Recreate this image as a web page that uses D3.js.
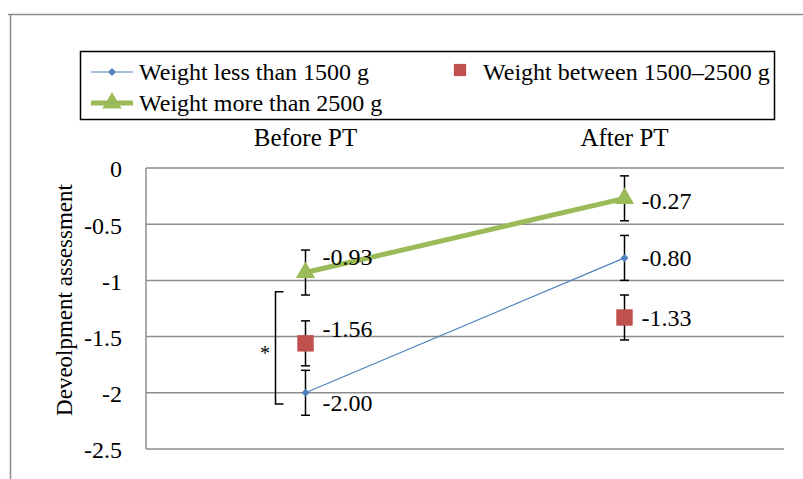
<!DOCTYPE html>
<html>
<head>
<meta charset="utf-8">
<script src="https://cdn.jsdelivr.net/npm/d3@7"></script>
<style>
  body { margin: 0; background: #fff; }
</style>
</head>
<body>
<div id="chart"></div>
<script>
// categories + series (mean, sd)
var categories = ["Before PT", "After PT"];
var seriesNames = ["Weight less than 1500 g", "Weight between 1500\u20132500 g", "Weight more than 2500 g"];
var lowWeight  = [-2.00, -0.80];
var midWeight  = [-1.56, -1.33];
var highWeight = [-0.93, -0.27];
var errLow  = [0.2, 0.2];
var errMid  = [0.2, 0.2];
var errHigh = [0.2, 0.2];
var yTicks = [0, -0.5, -1, -1.5, -2, -2.5];
// significance bracket between groups at Before PT
var sigRange = [-1.10, -2.10];

// label nudges (px) per series, per category
var labelShift = [[10, 0], [-15, 0], [-16, 2]];

var FONT = "'Liberation Serif', 'Times New Roman', serif";
var W = 803, H = 479;

var svg = d3.select("#chart").append("svg")
  .attr("width", W).attr("height", H);

// outer frame (partially cropped)
svg.append("line").attr("x1", 8).attr("x2", W).attr("y1", 14.5).attr("y2", 14.5)
  .attr("stroke", "#8c8c8c").attr("stroke-width", 1.5);
svg.append("line").attr("x1", 10.5).attr("x2", 10.5).attr("y1", 14).attr("y2", H)
  .attr("stroke", "#8c8c8c").attr("stroke-width", 1.5);

var x = d3.scaleBand().domain(categories).range([146, 784]);
var y = d3.scaleLinear().domain([-2.5, 0]).range([449, 168]);

function txt(sel, size) {
  return sel.style("font-family", FONT).style("font-size", size + "px").attr("fill", "#000");
}

// gridlines
svg.append("g").selectAll("line").data(yTicks).enter().append("line")
  .attr("x1", 146).attr("x2", 784)
  .attr("y1", function(d){ return y(d); }).attr("y2", function(d){ return y(d); })
  .attr("stroke", "#8c8c8c").attr("stroke-width", 1.5);
svg.append("line").attr("x1", 146).attr("x2", 146).attr("y1", y(0)).attr("y2", y(-2.5))
  .attr("stroke", "#8c8c8c").attr("stroke-width", 1.5);

// y tick labels
txt(svg.append("g").selectAll("text").data(yTicks).enter().append("text")
  .attr("x", 122).attr("y", function(d){ return y(d) + 1; })
  .attr("dy", "0.35em")
  .attr("text-anchor", "end"), 24)
  .text(function(d){ return String(d); });

// category labels on top
txt(svg.append("g").selectAll("text").data(categories).enter().append("text")
  .attr("x", function(d){ return x(d) + x.bandwidth()/2; })
  .attr("y", 146)
  .attr("text-anchor", "middle"), 25)
  .text(function(d){ return d; });

// y axis title
txt(svg.append("text")
  .attr("transform", "translate(72,300) rotate(-90)")
  .attr("text-anchor", "middle"), 23)
  .text("Deveolpment assessment");

var cx = function(i){ return x(categories[i]) + x.bandwidth()/2; };

var series = [
  {name: seriesNames[0], values: lowWeight,  err: errLow,  color: "#4F81BD", width: 1.2, marker: "diamond", line: true},
  {name: seriesNames[1], values: midWeight,  err: errMid,  color: "#C0504D", width: 0,   marker: "square",  line: false},
  {name: seriesNames[2], values: highWeight, err: errHigh, color: "#9BBB59", width: 5,   marker: "triangle", line: true}
];

var symbolFor = function(m, size){
  if (m === "diamond") return d3.symbol().type(d3.symbolDiamond2 || d3.symbolDiamond).size(size)();
  if (m === "square") return d3.symbol().type(d3.symbolSquare).size(size)();
  return d3.symbol().type(d3.symbolTriangle).size(size)();
};
var markerSize = {diamond: 40, square: 270, triangle: 160};

// error bars first
series.forEach(function(s){
  var g = svg.append("g");
  s.values.forEach(function(v, i){
    var top = y(v + s.err[i]), bot = y(v - s.err[i]), xx = cx(i);
    g.append("line").attr("x1", xx).attr("x2", xx).attr("y1", top).attr("y2", bot)
      .attr("stroke", "#000").attr("stroke-width", 1.5);
    [top, bot].forEach(function(yy){
      g.append("line").attr("x1", xx - 4.5).attr("x2", xx + 4.5).attr("y1", yy).attr("y2", yy)
        .attr("stroke", "#000").attr("stroke-width", 1.5);
    });
  });
});

// lines + markers
series.forEach(function(s, si){
  var pts = s.values.map(function(v, i){ return [cx(i), y(v)]; });
  if (s.line) {
    svg.append("path").attr("d", d3.line()(pts))
      .attr("fill", "none").attr("stroke", s.color).attr("stroke-width", s.width);
  }
  svg.append("g").selectAll("path").data(pts).enter().append("path")
    .attr("transform", function(p){ return "translate(" + p[0] + "," + p[1] + ")"; })
    .attr("d", symbolFor(s.marker, markerSize[s.marker]))
    .attr("fill", s.color);
  // data labels
  txt(svg.append("g").selectAll("text").data(s.values).enter().append("text")
    .attr("x", function(v, i){ return cx(i) + 17; })
    .attr("y", function(v, i){ return y(v) + labelShift[si][i]; })
    .attr("dy", "0.35em"), 24)
    .text(function(v){ return v.toFixed(2); });
});

// significance bracket
var bx = 275.5;
svg.append("path")
  .attr("d", "M" + (bx + 8) + "," + y(sigRange[0]) + "H" + bx + "V" + y(sigRange[1]) + "H" + (bx + 8))
  .attr("fill", "none").attr("stroke", "#000").attr("stroke-width", 1.5);
txt(svg.append("text").attr("x", 265).attr("y", (y(sigRange[0]) + y(sigRange[1]))/2 + 2)
  .attr("dy", "0.5em").attr("text-anchor", "middle"), 20).text("*");

// legend
var lg = svg.append("g");
lg.append("rect").attr("x", 80.5).attr("y", 51.5).attr("width", 694).attr("height", 68)
  .attr("fill", "#fff").attr("stroke", "#000").attr("stroke-width", 1.5);
var legendPos = [[91, 72], [455, 72], [91, 103]];
series.forEach(function(s, si){
  var p = legendPos[si];
  var item = lg.append("g").attr("transform", "translate(" + p[0] + "," + p[1] + ")");
  if (s.line) {
    item.append("line").attr("x1", 0).attr("x2", 42).attr("y1", 0).attr("y2", 0)
      .attr("stroke", s.color).attr("stroke-width", s.width);
    item.append("path").attr("transform", "translate(21,0)")
      .attr("d", symbolFor(s.marker, markerSize[s.marker])).attr("fill", s.color);
    txt(item.append("text").attr("x", 48).attr("dy", "0.35em"), 24).text(s.name);
  } else {
    item.append("path").attr("transform", "translate(5,-2)")
      .attr("d", symbolFor(s.marker, 150)).attr("fill", s.color);
    txt(item.append("text").attr("x", 28).attr("dy", "0.35em"), 24).text(s.name);
  }
});
</script>
</body>
</html>
